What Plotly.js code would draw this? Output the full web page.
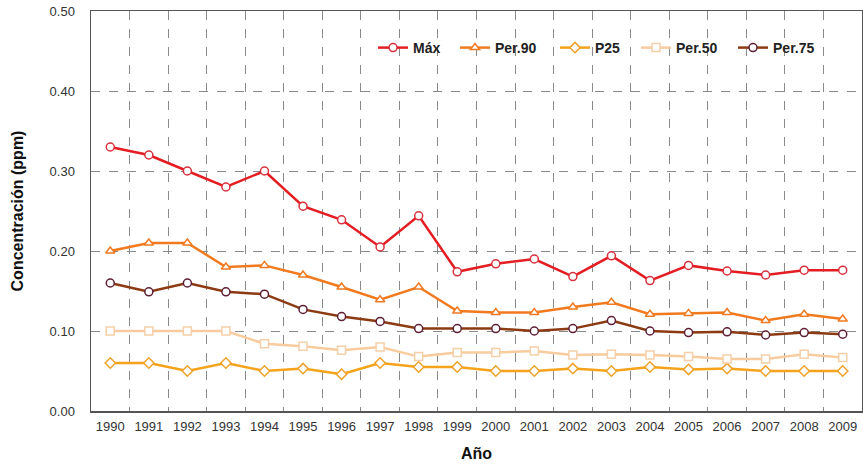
<!DOCTYPE html>
<html>
<head>
<meta charset="utf-8">
<script src="https://cdn.plot.ly/plotly-3.0.1.min.js"></script>
<style>html,body{margin:0;padding:0;background:#fff;}#chart{width:863px;height:468px;}</style>
</head>
<body>
<div id="chart"></div>
<script>
const years = ["1990","1991","1992","1993","1994","1995","1996","1997","1998","1999","2000","2001","2002","2003","2004","2005","2006","2007","2008","2009"];
const maxVals   = [0.330,0.320,0.300,0.280,0.300,0.256,0.239,0.205,0.244,0.174,0.184,0.190,0.168,0.194,0.163,0.182,0.175,0.170,0.176,0.176];
const per90Vals = [0.200,0.210,0.210,0.180,0.182,0.170,0.155,0.139,0.155,0.125,0.123,0.123,0.130,0.136,0.121,0.122,0.123,0.113,0.121,0.115];
const p25Vals   = [0.060,0.060,0.050,0.060,0.050,0.053,0.046,0.060,0.055,0.055,0.050,0.050,0.053,0.050,0.055,0.052,0.053,0.050,0.050,0.050];
const per50Vals = [0.100,0.100,0.100,0.100,0.084,0.081,0.076,0.080,0.068,0.073,0.073,0.075,0.070,0.071,0.070,0.068,0.065,0.065,0.071,0.067];
const per75Vals = [0.160,0.149,0.160,0.149,0.146,0.127,0.118,0.112,0.103,0.103,0.103,0.100,0.103,0.113,0.100,0.098,0.099,0.095,0.098,0.096];
const seriesNames = ["Máx","Per.90","P25","Per.50","Per.75"];

const legendIds = ['legend','legend2','legend3','legend4','legend5'];
const legendX = [0.3658, 0.4721, 0.6018, 0.7069, 0.8327];

function tr(i, y, lineColor, sym, mColor) {
  return {
    type: 'scatter', mode: 'lines+markers', name: seriesNames[i], x: years, y: y,
    legend: legendIds[i],
    line: {color: lineColor, width: 2.5},
    marker: {symbol: sym, size: 8, color: '#ffffff', line: {color: mColor, width: 1.5}}
  };
}
const data = [
  tr(0, maxVals,   '#e41d23', 'circle',      '#d8303c'),
  tr(1, per90Vals, '#f27a1e', 'triangle-up', '#f07a22'),
  tr(2, p25Vals,   '#f4a31a', 'diamond',     '#eea22a'),
  tr(3, per50Vals, '#f8cc9e', 'square',      '#f4cfa8'),
  tr(4, per75Vals, '#8c3a12', 'circle',      '#5e1f35')
];
const layout = {
  width: 863, height: 468,
  margin: {l: 91, r: 1, t: 11, b: 57},
  paper_bgcolor: '#ffffff', plot_bgcolor: '#ffffff',
  font: {family: 'Liberation Sans, Arial, sans-serif', color: '#333'},
  showlegend: true,
  xaxis: {
    type: 'category', range: [-0.5, 19.5], tickson: 'boundaries',
    showgrid: true, gridcolor: '#8a8a8a', griddash: 'dash', gridwidth: 1,
    showline: true, linecolor: '#555', linewidth: 1.5, mirror: true,
    ticks: '', tickfont: {size: 13, color: '#333'}, ticklabelstandoff: 3,
    zeroline: false,
    title: {text: 'Año', font: {size: 16, color: '#111', weight: 'bold'}, standoff: 14}
  },
  yaxis: {
    range: [0, 0.5], dtick: 0.1, tick0: 0, tickformat: '.2f',
    showgrid: true, gridcolor: '#8a8a8a', griddash: 'dash', gridwidth: 1,
    showline: true, linecolor: '#555', linewidth: 1.5, mirror: true,
    ticks: '', tickfont: {size: 13, color: '#333'}, ticklabelstandoff: 12,
    zeroline: false,
    title: {text: 'Concentración (ppm)', font: {size: 16, color: '#111', weight: 'bold'}, standoff: 22}
  }
};
legendIds.forEach(function (id, i) {
  layout[id] = {
    orientation: 'h', x: legendX[i], y: 0.9075, xanchor: 'left', yanchor: 'middle',
    bgcolor: 'rgba(0,0,0,0)', font: {size: 14, color: '#222', weight: 'bold'},
    itemwidth: 30
  };
});
Plotly.newPlot('chart', data, layout, {displayModeBar: false, staticPlot: true});
</script>
</body>
</html>
